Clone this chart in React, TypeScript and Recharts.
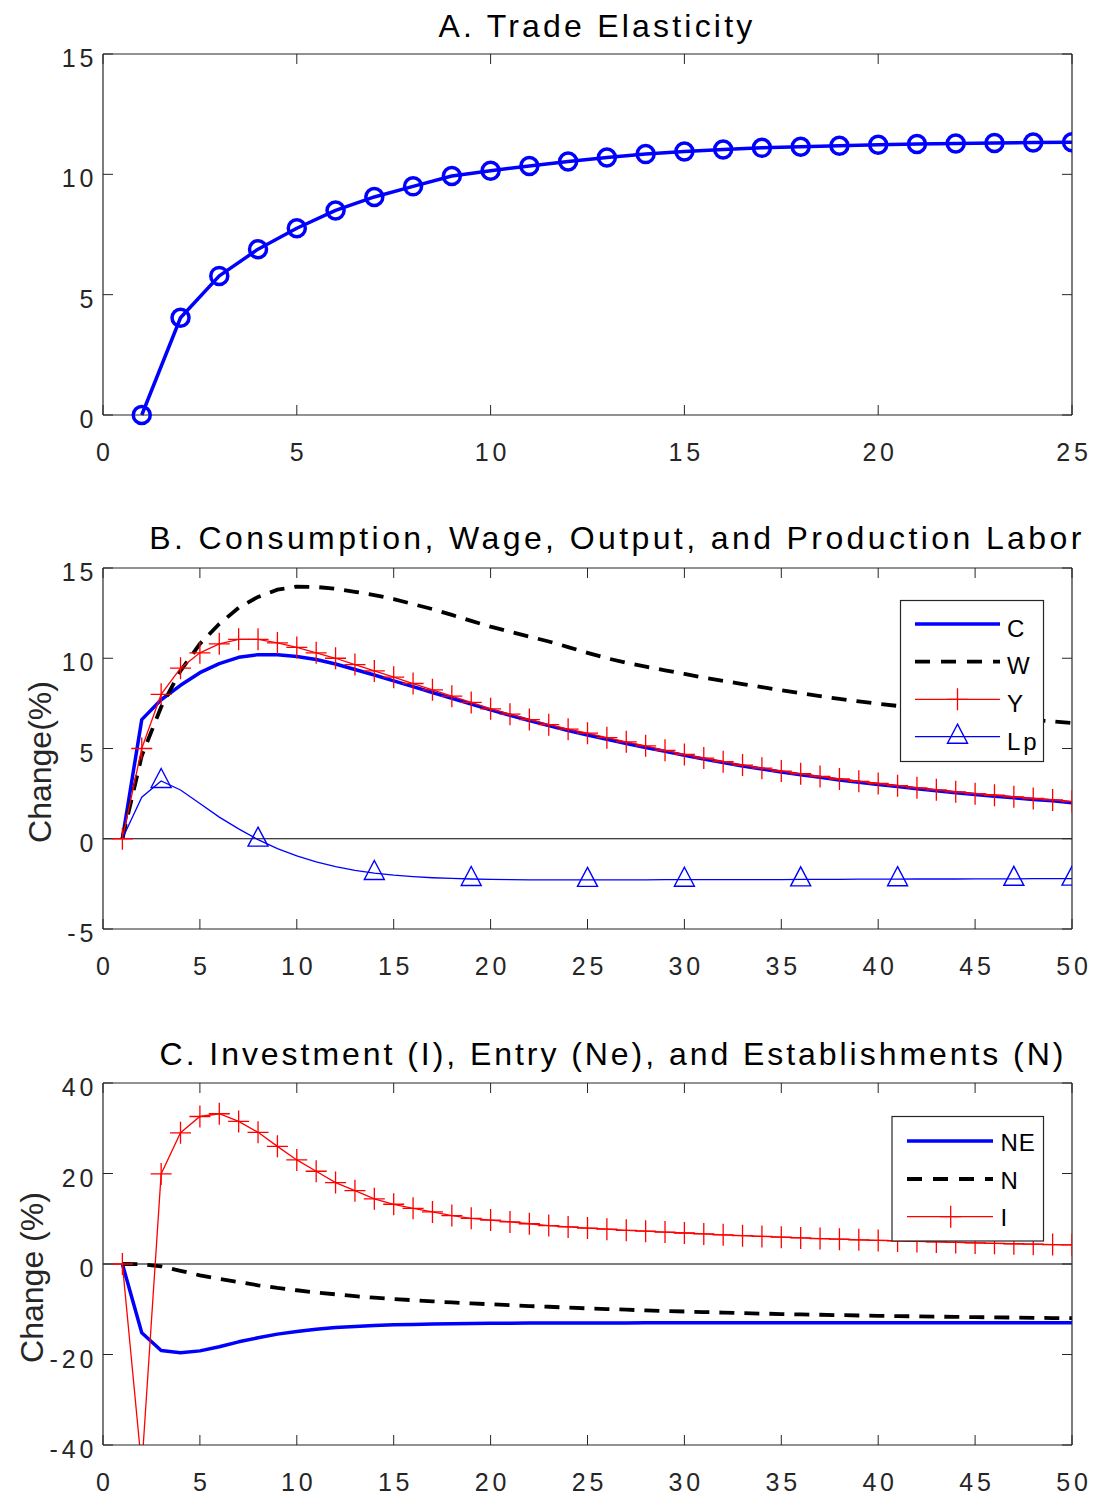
import React from 'react';
import { LineChart, Line, XAxis, YAxis, ReferenceLine } from 'recharts';

// ---------- data ----------
const periodsA = [1, 2, 3, 4, 5, 6, 7, 8, 9, 10, 11, 12, 13, 14, 15, 16, 17, 18, 19, 20, 21, 22, 23, 24, 25];
const tradeElasticity = [0, 4.04, 5.78, 6.89, 7.76, 8.5, 9.06, 9.5, 9.93, 10.15, 10.35, 10.53, 10.7, 10.84, 10.95, 11.03, 11.1, 11.15, 11.19, 11.23, 11.26, 11.28, 11.3, 11.32, 11.33];

const periodsB = [1, 2, 3, 4, 5, 6, 7, 8, 9, 10, 11, 12, 13, 14, 15, 16, 17, 18, 19, 20, 21, 22, 23, 24, 25, 26, 27, 28, 29, 30, 31, 32, 33, 34, 35, 36, 37, 38, 39, 40, 41, 42, 43, 44, 45, 46, 47, 48, 49, 50];
const consumption = [0, 6.6, 7.7, 8.5, 9.2, 9.7, 10.05, 10.2, 10.2, 10.1, 9.93, 9.68, 9.38, 9.07, 8.75, 8.43, 8.1, 7.78, 7.46, 7.14, 6.84, 6.55, 6.27, 6.0, 5.75, 5.51, 5.28, 5.06, 4.84, 4.62, 4.42, 4.22, 4.03, 3.86, 3.7, 3.55, 3.4, 3.26, 3.13, 3.01, 2.89, 2.77, 2.66, 2.55, 2.45, 2.36, 2.27, 2.18, 2.1, 2.0];
const wage = [0, 4.6, 7.3, 9.3, 10.8, 11.9, 12.8, 13.4, 13.8, 13.97, 13.95, 13.85, 13.68, 13.5, 13.28, 13.0, 12.72, 12.4, 12.07, 11.75, 11.47, 11.2, 10.93, 10.62, 10.3, 10.0, 9.75, 9.53, 9.33, 9.13, 8.93, 8.75, 8.57, 8.4, 8.23, 8.06, 7.9, 7.75, 7.61, 7.48, 7.36, 7.24, 7.12, 7.0, 6.89, 6.79, 6.69, 6.59, 6.5, 6.41];
const output = [0, 5.0, 8.0, 9.45, 10.3, 10.8, 11.05, 11.05, 10.85, 10.6, 10.3, 10.0, 9.65, 9.3, 8.95, 8.6, 8.25, 7.9, 7.55, 7.2, 6.9, 6.6, 6.32, 6.07, 5.85, 5.6, 5.37, 5.15, 4.9, 4.67, 4.47, 4.27, 4.08, 3.91, 3.75, 3.6, 3.45, 3.31, 3.18, 3.06, 2.94, 2.82, 2.71, 2.6, 2.5, 2.41, 2.32, 2.23, 2.15, 2.06];
const productionLabor = [0, 2.3, 3.2, 2.7, 1.95, 1.2, 0.55, -0.05, -0.55, -0.95, -1.28, -1.55, -1.75, -1.9, -2.02, -2.1, -2.16, -2.2, -2.23, -2.25, -2.27, -2.28, -2.28, -2.28, -2.28, -2.28, -2.28, -2.28, -2.27, -2.27, -2.27, -2.27, -2.26, -2.26, -2.26, -2.25, -2.25, -2.25, -2.24, -2.24, -2.24, -2.23, -2.23, -2.23, -2.22, -2.22, -2.22, -2.21, -2.21, -2.21];
const lpMarkerPeriods = [3, 8, 14, 19, 25, 30, 36, 41, 47, 50];

const entry = [0, -15.2, -19.1, -19.6, -19.2, -18.3, -17.2, -16.3, -15.5, -14.9, -14.4, -14.05, -13.8, -13.6, -13.45, -13.35, -13.25, -13.2, -13.15, -13.1, -13.08, -13.06, -13.05, -13.04, -13.03, -13.02, -13.02, -13.01, -13.01, -13.0, -13.0, -13.0, -13.0, -13.0, -13.0, -13.0, -13.0, -13.0, -13.0, -13.0, -13.0, -13.0, -13.0, -13.0, -13.0, -13.0, -13.0, -13.0, -13.0, -13.0];
const establishments = [0, -0.05, -0.5, -1.5, -2.5, -3.3, -4.0, -4.7, -5.3, -5.8, -6.3, -6.7, -7.1, -7.45, -7.75, -8.0, -8.25, -8.5, -8.7, -8.9, -9.1, -9.3, -9.45, -9.65, -9.8, -9.95, -10.1, -10.25, -10.4, -10.5, -10.62, -10.74, -10.85, -10.96, -11.06, -11.14, -11.22, -11.3, -11.38, -11.45, -11.51, -11.57, -11.63, -11.69, -11.74, -11.79, -11.84, -11.89, -11.94, -11.98];
const investment = [0, -45, 19.9, 29.0, 32.6, 33.2, 31.5, 29.1, 26.0, 23.0, 20.5, 18.0, 16.2, 14.4, 13.2, 12.3, 11.5, 10.7, 10.1, 9.7, 9.3, 8.9, 8.5, 8.2, 7.95, 7.7, 7.45, 7.25, 7.05, 6.85, 6.65, 6.45, 6.27, 6.1, 5.93, 5.77, 5.62, 5.48, 5.35, 5.22, 5.1, 4.98, 4.87, 4.76, 4.66, 4.56, 4.47, 4.38, 4.3, 4.22];

const xTicksA = [0, 5, 10, 15, 20, 25];
const yTicksA = [0, 5, 10, 15];
const xTicksB = [0, 5, 10, 15, 20, 25, 30, 35, 40, 45, 50];
const yTicksB = [-5, 0, 5, 10, 15];
const yTicksC = [-40, -20, 0, 20, 40];

const titleA = 'A. Trade Elasticity';
const titleB = 'B. Consumption, Wage, Output, and Production Labor';
const titleC = 'C. Investment (I), Entry (Ne), and Establishments (N)';
const yLabelB = 'Change(%)';
const yLabelC = 'Change (%)';
const legendB = ['C', 'W', 'Y', 'Lp'];
const legendC = ['NE', 'N', 'I'];

const dataA = periodsA.map((t, i) => ({ t, te: tradeElasticity[i] }));
const dataB = periodsB.map((t, i) => ({ t, c: consumption[i], w: wage[i], y: output[i], lp: productionLabor[i] }));
const dataC = periodsB.map((t, i) => ({ t, ne: entry[i], n: establishments[i], inv: investment[i] }));

// ---------- styles ----------
const FONT = '"Liberation Sans", Arial, Helvetica, sans-serif';
const AXIS = '#262626';
const BLUE = '#0000ff';
const RED = '#ff0000';
const BLACK = '#000000';
const TICK_FS = 25;
const TICK_LS = 3.8;

const XTick = (props: any) => (
  <text x={props.x + TICK_LS / 2} y={props.y + 46} textAnchor="middle" fontFamily={FONT} fontSize={TICK_FS} letterSpacing={TICK_LS} fill={AXIS}>
    {String(props.payload.value)}
  </text>
);
const YTick = (props: any) => (
  <text x={props.x - 9.7 + TICK_LS} y={props.y + 13} textAnchor="end" fontFamily={FONT} fontSize={TICK_FS} letterSpacing={TICK_LS} fill={AXIS}>
    {String(props.payload.value)}
  </text>
);
const EmptyTick = () => <g />;

const circleDot = (p: any) => {
  if (p.cx == null || p.cy == null) return <g key={`c${p.index}`} />;
  return <circle key={`c${p.index}`} cx={p.cx} cy={p.cy} r={8.5} fill="none" stroke={BLUE} strokeWidth={3.5} />;
};
const plusDot = (p: any) => {
  if (p.cx == null || p.cy == null) return <g key={`p${p.index}`} />;
  const { cx, cy } = p;
  return <path key={`p${p.index}`} d={`M${cx - 10.5},${cy}H${cx + 10.5}M${cx},${cy - 11}V${cy + 11}`} stroke={RED} strokeWidth={1.3} fill="none" />;
};
const triDot = (p: any) => {
  if (p.cx == null || p.cy == null || !lpMarkerPeriods.includes(p.payload.t)) return <g key={`t${p.index}`} />;
  const { cx, cy } = p;
  return <path key={`t${p.index}`} d={`M${cx},${cy - 12.5}L${cx + 10},${cy + 6.5}L${cx - 10},${cy + 6.5}Z`} stroke={BLUE} strokeWidth={1.4} fill="none" />;
};

function axes(xDomain: number[], xTicks: number[], yDomain: number[], yTicks: number[], clip: boolean) {
  return [
    <XAxis key="xb" xAxisId={0} type="number" dataKey="t" domain={xDomain} ticks={xTicks} interval={0} height={50}
      tickSize={-10} tickMargin={10} tick={XTick} axisLine={{ stroke: AXIS, strokeWidth: 1.2 }} tickLine={{ stroke: AXIS, strokeWidth: 1 }} allowDataOverflow />,
    <XAxis key="xt" xAxisId="top" orientation="top" type="number" dataKey="t" domain={xDomain} ticks={xTicks} interval={0} height={1}
      tickSize={-10} tick={EmptyTick} axisLine={{ stroke: AXIS, strokeWidth: 1.2 }} tickLine={{ stroke: AXIS, strokeWidth: 1 }} allowDataOverflow />,
    <YAxis key="yl" yAxisId={0} type="number" domain={yDomain} ticks={yTicks} interval={0} width={100}
      tickSize={-10} tickMargin={10} tick={YTick} axisLine={{ stroke: AXIS, strokeWidth: 1.2 }} tickLine={{ stroke: AXIS, strokeWidth: 1 }} allowDataOverflow={clip} />,
    <YAxis key="yr" yAxisId="right" orientation="right" type="number" domain={yDomain} ticks={yTicks} interval={0} width={1}
      tickSize={-10} tick={EmptyTick} axisLine={{ stroke: AXIS, strokeWidth: 1.2 }} tickLine={{ stroke: AXIS, strokeWidth: 1 }} allowDataOverflow />,
  ];
}

export default function App() {
  return (
    <div style={{ position: 'absolute', left: 0, top: 0, width: 1099, height: 1498, background: '#fff', overflow: 'hidden' }}>
      {/* Panel A */}
      <div style={{ position: 'absolute', left: 0, top: 0 }}>
        <LineChart width={1099} height={490} data={dataA} margin={{ top: 53, right: 26, bottom: 25, left: 3 }}>
          {axes([0, 25], xTicksA, [0, 15], yTicksA, false)}
          <Line type="linear" dataKey="te" stroke={BLUE} strokeWidth={3.5} strokeLinejoin="round" dot={circleDot} activeDot={false} isAnimationActive={false} />
        </LineChart>
      </div>
      {/* Panel B */}
      <div style={{ position: 'absolute', left: 0, top: 500 }}>
        <LineChart width={1099} height={490} data={dataB} margin={{ top: 67, right: 26, bottom: 11, left: 3 }}>
          {axes([0, 50], xTicksB, [-5, 15], yTicksB, false)}
          <ReferenceLine y={0} stroke={BLACK} strokeWidth={1.2} />
          <Line type="linear" dataKey="c" stroke={BLUE} strokeWidth={3.5} strokeLinejoin="round" dot={false} activeDot={false} isAnimationActive={false} />
          <Line type="linear" dataKey="w" stroke={BLACK} strokeWidth={3.8} strokeDasharray="15 10" dot={false} activeDot={false} isAnimationActive={false} />
          <Line type="linear" dataKey="y" stroke={RED} strokeWidth={1.3} dot={plusDot} activeDot={false} isAnimationActive={false} />
          <Line type="linear" dataKey="lp" stroke={BLUE} strokeWidth={1.3} dot={triDot} activeDot={false} isAnimationActive={false} />
        </LineChart>
      </div>
      {/* Panel C */}
      <div style={{ position: 'absolute', left: 0, top: 1010 }}>
        <LineChart width={1099} height={488} data={dataC} margin={{ top: 72, right: 26, bottom: 3, left: 3 }}>
          {axes([0, 50], xTicksB, [-40, 40], yTicksC, true)}
          <ReferenceLine y={0} stroke={BLACK} strokeWidth={1.2} />
          <Line type="linear" dataKey="ne" stroke={BLUE} strokeWidth={3.5} strokeLinejoin="round" dot={false} activeDot={false} isAnimationActive={false} />
          <Line type="linear" dataKey="n" stroke={BLACK} strokeWidth={3.8} strokeDasharray="15 10" dot={false} activeDot={false} isAnimationActive={false} />
          <Line type="linear" dataKey="inv" stroke={RED} strokeWidth={1.3} dot={plusDot} activeDot={false} isAnimationActive={false} />
        </LineChart>
      </div>
      {/* Overlay: titles, y labels, legends */}
      <svg width={1099} height={1498} style={{ position: 'absolute', left: 0, top: 0, pointerEvents: 'none' }}>
        <g fontFamily={FONT} fill="#000">
          <text x={597} y={36.7} textAnchor="middle" fontSize={32} letterSpacing={3.2}>{titleA}</text>
          <text x={617} y={549.3} textAnchor="middle" fontSize={32} letterSpacing={3.4}>{titleB}</text>
          <text x={613} y={1065} textAnchor="middle" fontSize={32} letterSpacing={2.95}>{titleC}</text>
          <text x={51} y={762} textAnchor="middle" fontSize={32} transform="rotate(-90 51 762)" fill={AXIS}>{yLabelB}</text>
          <text x={43} y={1277.5} textAnchor="middle" fontSize={32} transform="rotate(-90 43 1277.5)" fill={AXIS}>{yLabelC}</text>
        </g>
        {/* Legend B */}
        <g fontFamily={FONT} fontSize={24} fill="#000">
          <rect x={900.5} y={600.5} width={143} height={161} fill="#fff" stroke={AXIS} strokeWidth={1.2} />
          <line x1={915} x2={1000} y1={624} y2={624} stroke={BLUE} strokeWidth={3.5} />
          <text x={1007} y={636.5} letterSpacing={3}>{legendB[0]}</text>
          <line x1={915} x2={1000} y1={661.7} y2={661.7} stroke={BLACK} strokeWidth={3.8} strokeDasharray="15 11" />
          <text x={1007} y={674} letterSpacing={3}>{legendB[1]}</text>
          <line x1={915} x2={1000} y1={699.3} y2={699.3} stroke={RED} strokeWidth={1.3} />
          {plusDot({ cx: 957.5, cy: 699.3, index: 'lgY' })}
          <text x={1007} y={712} letterSpacing={3}>{legendB[2]}</text>
          <line x1={915} x2={1000} y1={736.7} y2={736.7} stroke={BLUE} strokeWidth={1.3} />
          <path d={`M957.5,${736.7 - 12.5}L967.5,${736.7 + 6.5}L947.5,${736.7 + 6.5}Z`} stroke={BLUE} strokeWidth={1.4} fill="none" />
          <text x={1007} y={749.5} letterSpacing={3}>{legendB[3]}</text>
        </g>
        {/* Legend C */}
        <g fontFamily={FONT} fontSize={24} fill="#000">
          <rect x={892} y={1116.5} width={151.5} height={124.5} fill="#fff" stroke={AXIS} strokeWidth={1.2} />
          <line x1={907} x2={993} y1={1141} y2={1141} stroke={BLUE} strokeWidth={3.5} />
          <text x={1000.5} y={1151} letterSpacing={1}>{legendC[0]}</text>
          <line x1={907} x2={993} y1={1179} y2={1179} stroke={BLACK} strokeWidth={3.8} strokeDasharray="15 11" />
          <text x={1000.5} y={1189} letterSpacing={1}>{legendC[1]}</text>
          <line x1={907} x2={993} y1={1216.7} y2={1216.7} stroke={RED} strokeWidth={1.3} />
          {plusDot({ cx: 950.7, cy: 1216.7, index: 'lgI' })}
          <text x={1000.5} y={1225.5} letterSpacing={1}>{legendC[2]}</text>
        </g>
      </svg>
    </div>
  );
}
